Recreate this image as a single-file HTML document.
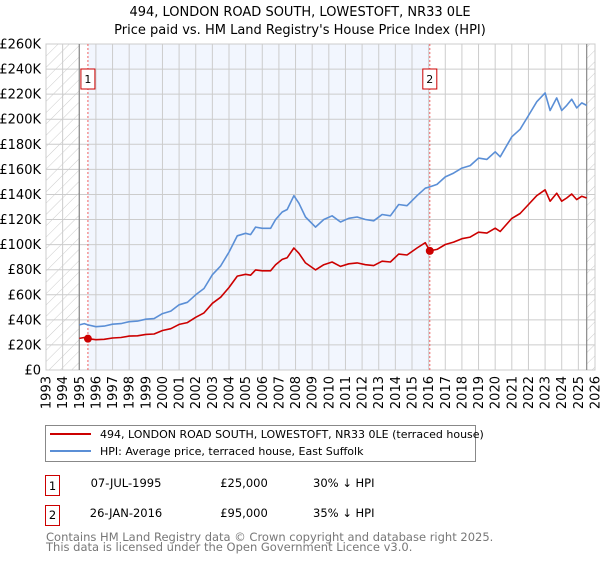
<!DOCTYPE html>
<html><head><meta charset="utf-8"><style>
body{margin:0;background:#fff;font-family:"Liberation Sans","DejaVu Sans",sans-serif;}
svg text{font-family:"DejaVu Sans","Liberation Sans",sans-serif;}
</style></head><body>
<svg id="c" width="600" height="560" xmlns="http://www.w3.org/2000/svg">
<defs><pattern id="hatch" width="8" height="8" patternUnits="userSpaceOnUse" patternTransform="rotate(45)"><line x1="0" y1="0" x2="0" y2="8" stroke="#ccc" stroke-width="1"/></pattern></defs>
<text x="300" y="16" text-anchor="middle" font-size="13">494, LONDON ROAD SOUTH, LOWESTOFT, NR33 0LE</text>
<text x="300" y="34" text-anchor="middle" font-size="13">Price paid vs. HM Land Registry's House Price Index (HPI)</text>
<g id="plot"></g>
<g>
<rect x="45.5" y="425.5" width="430" height="36" fill="#fff" stroke="#888"/>
<line x1="50" y1="434" x2="91" y2="434" stroke="#cc0000" stroke-width="2"/>
<text x="100" y="438" font-size="11">494, LONDON ROAD SOUTH, LOWESTOFT, NR33 0LE (terraced house)</text>
<line x1="50" y1="451" x2="91" y2="451" stroke="#5b8fd6" stroke-width="2"/>
<text x="100" y="455" font-size="11">HPI: Average price, terraced house, East Suffolk</text>
</g>
<g font-size="11.5">
<rect x="45.5" y="475.5" width="14" height="20" fill="#fff" stroke="#cc0000"/><text x="52.5" y="490" text-anchor="middle">1</text>
<text x="126" y="487" text-anchor="middle">07-JUL-1995</text>
<text x="244" y="487" text-anchor="middle">£25,000</text>
<text x="313" y="487">30% ↓ HPI</text>
<rect x="45.5" y="505.5" width="14" height="20" fill="#fff" stroke="#cc0000"/><text x="52.5" y="519" text-anchor="middle">2</text>
<text x="126" y="517" text-anchor="middle">26-JAN-2016</text>
<text x="244" y="517" text-anchor="middle">£95,000</text>
<text x="313" y="517">35% ↓ HPI</text>
</g>
<text x="46" y="541" font-size="11.5" fill="#777">Contains HM Land Registry data © Crown copyright and database right 2025.</text>
<text x="46" y="551" font-size="11.5" fill="#777">This data is licensed under the Open Government Licence v3.0.</text>
</svg>
<script>
const years=[1995.0,1995.3,1995.52,1996.0,1996.5,1997.0,1997.5,1998.0,1998.5,1999.0,1999.5,2000.0,2000.5,2001.0,2001.5,2002.0,2002.5,2003.0,2003.5,2004.0,2004.5,2005.0,2005.3,2005.6,2006.0,2006.5,2006.8,2007.2,2007.5,2007.9,2008.2,2008.6,2009.2,2009.7,2010.2,2010.7,2011.2,2011.7,2012.2,2012.7,2013.2,2013.7,2014.2,2014.7,2015.3,2015.8,2016.07,2016.5,2017.0,2017.5,2018.0,2018.5,2019.0,2019.5,2020.0,2020.3,2021.0,2021.5,2022.0,2022.5,2023.0,2023.3,2023.7,2024.0,2024.3,2024.6,2024.9,2025.2,2025.5];
const hpiValues=[36,37,36,34.5,35,36.5,37,38.5,39,40.5,41,45,47,52,54,60,65,76,83,94,107,109,108,114,113,113,120,126,128,139,133,122,114,120,123,118,121,122,120,119,124,123,132,131,139,145,146,148,154,157,161,163,169,168,174,170,186,192,203,214,221,207,217,207,211,216,209,213,211];
const propertyValues=[25.2,25.9,25,24.2,24.5,25.5,25.9,27,27.3,28.4,28.7,31.5,32.9,36.4,37.8,42,45.5,53.2,58.1,65.8,74.9,76.3,75.6,79.8,79.1,79.1,84,88.2,89.6,97.3,93.1,85.4,79.8,84,86.1,82.6,84.7,85.4,84,83.3,86.8,86.1,92.4,91.7,97.3,101.5,95,96.2,100.1,102,104.7,106,109.9,109.2,113.1,110.5,120.9,124.8,132,139.1,143.7,134.6,141,134.6,137.2,140.4,135.9,138.5,137.2];
const saleYears=[1995.52,2016.07];
const salePrices=[25,95];
const saleLabels=["1","2"];
const yTicks=[0,20,40,60,80,100,120,140,160,180,200,220,240,260];
const xTicks=[1993,1994,1995,1996,1997,1998,1999,2000,2001,2002,2003,2004,2005,2006,2007,2008,2009,2010,2011,2012,2013,2014,2015,2016,2017,2018,2019,2020,2021,2022,2023,2024,2025,2026];

const L=46,R=595,T=44,B=370;
const x=y=>L+(y-1993)/(2026-1993)*(R-L);
const yv=v=>B-v/260*(B-T);
const NS="http://www.w3.org/2000/svg";
const g=document.getElementById('plot');
function mk(t,a,p){const e=document.createElementNS(NS,t);for(const k in a)e.setAttribute(k,a[k]);(p||g).appendChild(e);return e;}
let sh=mk('rect',{x:x(saleYears[0]),y:T,width:x(saleYears[1])-x(saleYears[0]),height:B-T,fill:'#f2f6fe'});


let h1=mk('rect',{x:L,y:T,width:x(1995)-L,height:B-T,fill:'url(#hatch)'});


let h2=mk('rect',{x:x(2025.5),y:T,width:R-x(2025.5),height:B-T,fill:'url(#hatch)'});


yTicks.forEach(v=>{
 let l=mk('line',{x1:L,x2:R,y1:yv(v),y2:yv(v),stroke:'#ccc'});
 
 
 let t=mk('text',{x:L-5,y:yv(v)+4.5,'text-anchor':'end','font-size':'13'});
 t.textContent=v===0?'£0':'£'+v+'K';
 
 
});
xTicks.forEach(v=>{
 let l=mk('line',{x1:x(v),x2:x(v),y1:T,y2:B,stroke:'#ccc'});
 
 
 let t=mk('text',{x:0,y:0,'text-anchor':'end','font-size':'13',transform:`translate(${x(v)+4.5},${B+6}) rotate(-90)`});
 t.textContent=v;
 
 
});
mk('rect',{x:L,y:T,width:R-L,height:B-T,fill:'none',stroke:'#ccc'});
[1995,2025.5].forEach(v=>{let l=mk('line',{x1:x(v),x2:x(v),y1:T,y2:B,stroke:'#888','stroke-width':1.2});
 
 });
saleYears.forEach((s,i)=>{
 let l=mk('line',{x1:x(s),x2:x(s),y1:T,y2:B,stroke:'#f06060','stroke-dasharray':'2,2'});
 
 
 let bx=mk('rect',{x:x(s)-7,y:69,width:14,height:20,fill:'#fff',stroke:'#cc0000'});
 
 
 let t=mk('text',{x:x(s),y:83,'text-anchor':'middle','font-size':'11'});t.textContent=saleLabels[i];
 
 
});
const pts=a=>years.map((yr,i)=>x(yr).toFixed(1)+','+yv(a[i]).toFixed(1)).join(' ');
let hp=mk('polyline',{points:pts(hpiValues),fill:'none',stroke:'#5b8fd6','stroke-width':1.6,'stroke-linejoin':'round'});


let pp=mk('polyline',{points:pts(propertyValues),fill:'none',stroke:'#cc0000','stroke-width':1.6,'stroke-linejoin':'round'});


saleYears.forEach((s,i)=>{
 let c=mk('circle',{cx:x(s),cy:yv(salePrices[i]),r:4,fill:'#cc0000'});
 
 
});
</script>
</body></html>
